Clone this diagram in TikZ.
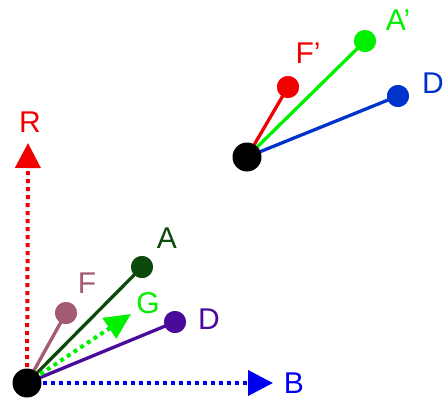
\documentclass[tikz,border=0pt]{standalone}
\usepackage{fontspec}
\setmainfont{Liberation Sans}
\usetikzlibrary{arrows.meta}
\definecolor{cF}{HTML}{A35B72}
\definecolor{cA}{HTML}{0B4A0B}
\definecolor{cD}{HTML}{4A0A9A}
\definecolor{cG}{HTML}{00F000}
\definecolor{cB}{HTML}{0000F0}
\definecolor{cR}{HTML}{F00000}
\definecolor{cDt}{HTML}{0033CC}
\tikzset{
  seg/.style={line width=3.3pt},
  dotline/.style={line width=4pt, dash pattern=on 4pt off 4pt, -{Triangle[length=25pt,width=25pt]}},
  dotvec/.style={line width=4pt, dash pattern=on 4pt off 4pt, -{Triangle[length=26pt,width=24pt]}},
  bigdot/.style={circle, fill=black, inner sep=0pt, minimum size=29pt},
  smalldot/.style={circle, inner sep=0pt, minimum size=22pt},
  lab/.style={font=\fontsize{30}{30}\selectfont, inner sep=0pt}
}
\begin{document}
\begin{tikzpicture}[x=1pt,y=-1pt]
\useasboundingbox (0,0) rectangle (445,400);
% bottom cluster
\coordinate (O) at (27,383);
\coordinate (Rtip) at (28,143);
\coordinate (Btip) at (273,383);
\coordinate (Gtip) at (131,314);
\node[smalldot, fill=cF] (F) at (66,313) {};
\node[smalldot, fill=cA] (A) at (142,267) {};
\node[smalldot, fill=cD] (D) at (175,322) {};
\draw[dotline, cR] (O) -- (Rtip);
\draw[dotline, cB] (O) -- (Btip);
\draw[seg, cF] (O) -- (F.center);
\draw[seg, cA] (O) -- (A.center);
\draw[seg, cD] (O) -- (D.center);
\draw[dotvec, cG] (O) -- (Gtip);
\node[smalldot, fill=cF] at (F) {};
\node[smalldot, fill=cA] at (A) {};
\node[smalldot, fill=cD] at (D) {};
\node[bigdot] (Ob) at (O) {};
\node[lab, text=cR] (lR) at (30,122) {R};
\node[lab, text=cB] (lB) at (294,383) {B};
\node[lab, text=cF] (lF) at (87,283) {F};
\node[lab, text=cA] (lA) at (167,238) {A};
\node[lab, text=cG] (lG) at (148,303) {G};
\node[lab, text=cD] (lD) at (209,319) {D};
% top cluster
\coordinate (P) at (247,157);
\node[smalldot, fill=cR] (Fp) at (288,87) {};
\node[smalldot, fill=cG] (Ap) at (365,41) {};
\node[smalldot, fill=cDt] (Dp) at (398,96) {};
\draw[seg, cR] (P) -- (Fp.center);
\draw[seg, cG] (P) -- (Ap.center);
\draw[seg, cDt] (P) -- (Dp.center);
\node[smalldot, fill=cR] at (Fp) {};
\node[smalldot, fill=cG] at (Ap) {};
\node[smalldot, fill=cDt] at (Dp) {};
\node[bigdot] (Pb) at (P) {};
\node[lab, text=cR] (lFp) at (308,53) {F’};
\node[lab, text=cG] (lAp) at (398,20) {A’};
\node[lab, text=cDt] (lDp) at (433,83) {D};
\end{tikzpicture}
\end{document}
